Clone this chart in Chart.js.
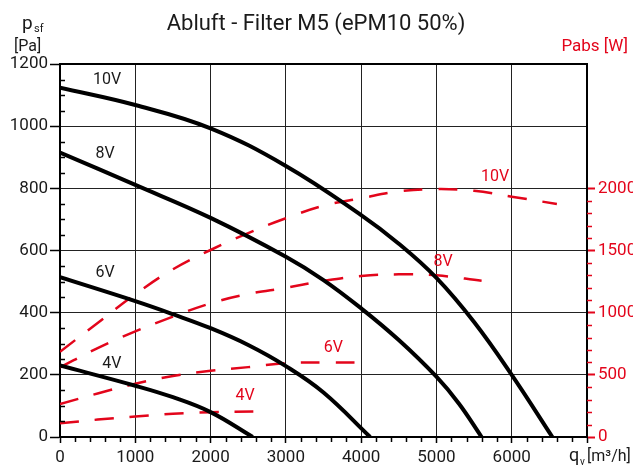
<!DOCTYPE html>
<html>
<head>
<meta charset="utf-8">
<script src="https://cdn.jsdelivr.net/npm/chart.js@4.4.1/dist/chart.umd.min.js"></script>
<style>
  html, body { margin: 0; padding: 0; background: #fff; }
  #wrap { width: 633px; height: 468px; }
</style>
</head>
<body>
<div id="wrap"><canvas id="chart"></canvas></div>
<script>
// Druckkurven p_sf [Pa] über q_v [m³/h]
const flowP10 = [0, 1000, 2000, 3000, 4000, 4500, 5000, 5500, 6000, 6540];
const pres10  = [1124, 1068, 993, 872, 714, 622, 512, 370, 200, 0];
const flowP8  = [0, 1000, 2000, 3000, 3500, 4000, 4500, 5000, 5300, 5600];
const pres8   = [915, 811, 705, 580, 505, 414, 312, 194, 107, 0];
const flowP6  = [0, 1000, 1500, 2000, 2500, 3000, 3500, 4120];
const pres6   = [514, 437, 395, 350, 296, 228, 143, 0];
const flowP4  = [0, 1000, 1500, 2000, 2560];
const pres4   = [230, 165, 128, 80, 0];

// Leistungsaufnahme Pabs [W]
const flowW10 = [0, 500, 1000, 1500, 2000, 2500, 3000, 3500, 4000, 4500, 5000, 5500, 6000, 6600];
const pabs10  = [686, 917, 1148, 1349, 1504, 1640, 1759, 1860, 1920, 1975, 1994, 1980, 1933, 1874];
const flowW8  = [0, 500, 1000, 1500, 2000, 2500, 3000, 3500, 4000, 4500, 5000, 5600];
const pabs8   = [560, 715, 850, 968, 1075, 1150, 1200, 1255, 1295, 1308, 1300, 1257];
const flowW6  = [0, 500, 1000, 1500, 2000, 2500, 3000, 3500, 4000];
const pabs6   = [265, 350, 428, 490, 532, 562, 593, 600, 598];
const flowW4  = [0, 500, 1000, 1500, 2000, 2600];
const pabs4   = [110, 140, 165, 187, 200, 205];

const speeds = ['10V', '8V', '6V', '4V'];
const xTicks = [0, 1000, 2000, 3000, 4000, 5000, 6000, 7000];
const yTicks = [0, 200, 400, 600, 800, 1000, 1200];
const wTicks = [0, 500, 1000, 1500, 2000];

// Beschriftung der Kurven (q_v, Wert)
const labelsPres = [[625, 1148], [600, 911], [600, 528], [690, 235]];
const labelsPabs = [[5780, 2090], [5090, 1405], [3630, 716], [2460, 330]];

const RED = '#e3051b';
const FONT = 'Roboto, "DejaVu Sans", sans-serif';

const toPts = (xs, ys) => xs.map((x, i) => ({ x: x, y: ys[i] }));

const presSets = [[flowP10, pres10], [flowP8, pres8], [flowP6, pres6], [flowP4, pres4]];
const pabsSets = [[flowW10, pabs10], [flowW8, pabs8], [flowW6, pabs6], [flowW4, pabs4]];

const datasets = [];
presSets.forEach((s, i) => datasets.push({
  label: 'p ' + speeds[i],
  data: toPts(s[0], s[1]),
  yAxisID: 'y',
  borderColor: '#000',
  borderWidth: 4,
  pointRadius: 0,
  tension: 0.4,
  fill: false
}));
pabsSets.forEach((s, i) => datasets.push({
  label: 'Pabs ' + speeds[i],
  data: toPts(s[0], s[1]),
  yAxisID: 'y1',
  borderColor: RED,
  borderWidth: 2.5,
  borderDash: [19, 16],
  pointRadius: 0,
  tension: 0.4,
  fill: false
}));

const decor = {
  id: 'decor',
  afterDraw(chart) {
    const ctx = chart.ctx;
    const a = chart.chartArea;
    const sx = chart.scales.x, sy = chart.scales.y, sw = chart.scales.y1;
    ctx.save();

    // Rahmen oben
    ctx.strokeStyle = '#000';
    ctx.lineWidth = 2;
    ctx.beginPath();
    ctx.moveTo(a.left, a.top);
    ctx.lineTo(a.right, a.top);
    ctx.stroke();

    // Zwischenstriche
    ctx.lineWidth = 1.5;
    for (let v = 50; v < 1200; v += 50) {
      if (v % 200 === 0) continue;
      const y = Math.round(sy.getPixelForValue(v)) + 0.5;
      ctx.beginPath(); ctx.moveTo(a.left, y); ctx.lineTo(a.left + 5, y); ctx.stroke();
    }
    for (let v = 200; v < 7000; v += 200) {
      if (v % 1000 === 0) continue;
      const x = Math.round(sx.getPixelForValue(v)) + 0.5;
      ctx.beginPath(); ctx.moveTo(x, a.bottom); ctx.lineTo(x, a.bottom + 5); ctx.stroke();
    }
    ctx.strokeStyle = RED;
    for (let v = 100; v < 2000; v += 100) {
      if (v % 500 === 0) continue;
      const y = Math.round(sw.getPixelForValue(v)) + 0.5;
      ctx.beginPath(); ctx.moveTo(a.right, y); ctx.lineTo(a.right + 5, y); ctx.stroke();
    }

    // Titel
    ctx.fillStyle = '#1a1a1a';
    ctx.textAlign = 'center';
    ctx.textBaseline = 'alphabetic';
    ctx.font = '22px ' + FONT;
    ctx.fillText('Abluft - Filter M5 (ePM10 50%)', 316, 30);

    // Achsentitel
    ctx.textAlign = 'left';
    ctx.font = '19px ' + FONT;
    ctx.fillText('p', 22, 29);
    ctx.font = '11px ' + FONT;
    ctx.fillText('sf', 34, 32);
    ctx.font = '16px ' + FONT;
    ctx.fillText('[Pa]', 14, 51);

    ctx.font = '18px ' + FONT;
    ctx.fillText('q', 569, 461);
    ctx.font = '10px ' + FONT;
    ctx.fillText('v', 580, 465);
    ctx.font = '16px ' + FONT;
    ctx.fillText('[m³/h]', 587, 461);

    ctx.fillStyle = RED;
    ctx.textAlign = 'right';
    ctx.font = '17px ' + FONT;
    ctx.fillText('Pabs [W]', 628, 51);

    // Kurvenbeschriftung
    ctx.textAlign = 'center';
    ctx.textBaseline = 'middle';
    ctx.font = '16px ' + FONT;
    ctx.fillStyle = '#1a1a1a';
    labelsPres.forEach((p, i) => ctx.fillText(speeds[i], sx.getPixelForValue(p[0]), sy.getPixelForValue(p[1])));
    ctx.fillStyle = RED;
    labelsPabs.forEach((p, i) => ctx.fillText(speeds[i], sx.getPixelForValue(p[0]), sw.getPixelForValue(p[1])));

    ctx.restore();
  }
};

new Chart(document.getElementById('chart'), {
  type: 'line',
  data: { datasets: datasets },
  options: {
    responsive: true,
    maintainAspectRatio: false,
    animation: false,
    layout: { padding: { top: 64, left: 0, right: 0, bottom: 0 } },
    plugins: { legend: { display: false }, tooltip: { enabled: false } },
    scales: {
      x: {
        type: 'linear',
        min: 0, max: 7000,
        afterBuildTicks: s => { s.ticks = xTicks.map(v => ({ value: v })); },
        afterFit: s => { s.height = 31; },
        ticks: {
          color: '#1a1a1a',
          font: { family: FONT, size: 17 },
          padding: 5,
          maxRotation: 0,
          autoSkip: false,
          callback: v => v === 7000 ? '' : String(v)
        },
        grid: { color: '#222', lineWidth: 1, tickLength: 6, tickColor: '#000', tickWidth: 1.5 },
        border: { color: '#000', width: 2 }
      },
      y: {
        position: 'left',
        min: 0, max: 1200,
        afterBuildTicks: s => { s.ticks = yTicks.map(v => ({ value: v })); },
        afterFit: s => { s.width = 60; },
        ticks: { color: '#1a1a1a', font: { family: FONT, size: 17 }, padding: 2, callback: v => String(v) },
        grid: { color: '#222', lineWidth: 1, tickLength: 10, tickColor: '#000', tickWidth: 1.5 },
        border: { color: '#000', width: 2 }
      },
      y1: {
        position: 'right',
        min: 0, max: 3000,
        afterBuildTicks: s => { s.ticks = wTicks.map(v => ({ value: v })); },
        afterFit: s => { s.width = 46; },
        ticks: { color: RED, font: { family: FONT, size: 17 }, padding: 3, callback: v => String(v) },
        grid: { drawOnChartArea: false, tickLength: 8, tickColor: RED, tickWidth: 2 },
        border: { color: '#000', width: 2 }
      }
    }
  },
  plugins: [decor]
});
</script>
</body>
</html>
